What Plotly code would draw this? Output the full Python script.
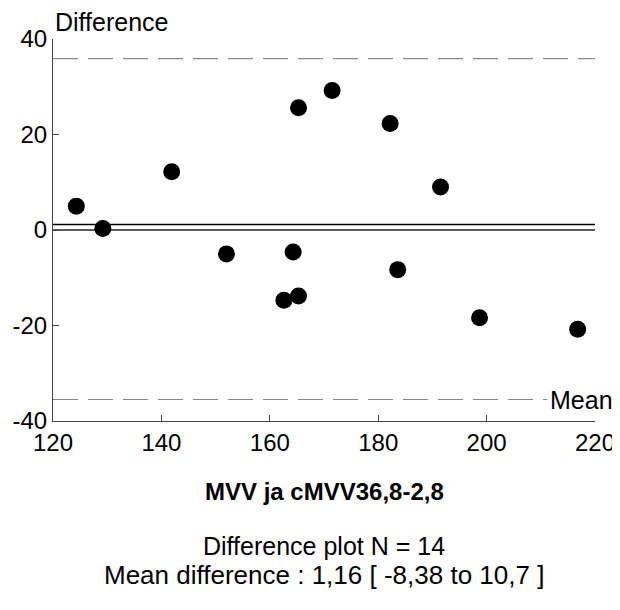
import plotly.graph_objects as go

# Data
mean_vals = [124.3, 129.2, 141.9, 152.0, 162.6, 164.3, 165.3, 165.3, 171.5, 182.2, 183.6, 191.5, 198.7, 216.8]
diff_vals = [5.0, 0.3, 12.2, -5.0, -14.7, -4.6, -13.8, 25.6, 29.2, 22.3, -8.3, 9.0, -18.4, -20.8]
mean_diff = 1.16
upper_limit = 35.9
lower_limit = -35.5
x_ticks = [120, 140, 160, 180, 200, 220]
y_ticks = [-40, -20, 0, 20, 40]
y_ticklabels = ["-40", "-20", "0", "20", "40"]

title_text = "MVV ja cMVV36,8-2,8"
sub1 = "Difference plot N = 14"
sub2 = "Mean difference : 1,16 [ -8,38 to 10,7 ]"

FONT = "Liberation Sans, Arial, sans-serif"

fig = go.Figure()
fig.add_trace(go.Scatter(
    x=mean_vals, y=diff_vals, mode="markers",
    marker=dict(color="black", size=17, line=dict(width=0)),
    showlegend=False, hoverinfo="x+y"))

shapes = [
    dict(type="line", xref="x", yref="y", x0=120, x1=220, y0=mean_diff, y1=mean_diff,
         line=dict(color="black", width=1.5), layer="below"),
    dict(type="line", xref="x", yref="y", x0=120, x1=220, y0=0, y1=0,
         line=dict(color="#222", width=1.5), layer="below"),
    dict(type="line", xref="x", yref="y", x0=120, x1=220, y0=upper_limit, y1=upper_limit,
         line=dict(color="#888", width=1.2, dash="25px,10px"), layer="below"),
    dict(type="line", xref="x", yref="y", x0=120, x1=211.2, y0=lower_limit, y1=lower_limit,
         line=dict(color="#888", width=1.2, dash="25px,10px"), layer="below"),
]

annotations = [
    dict(text="Difference", xref="paper", yref="paper", x=0, y=1, xanchor="left",
         yanchor="middle", xshift=0, yshift=17, showarrow=False,
         font=dict(family=FONT, size=25, color="black")),
    dict(text="Mean", xref="x", yref="y", x=211.3, y=lower_limit, xanchor="left",
         yanchor="middle", showarrow=False,
         font=dict(family=FONT, size=25, color="black")),
    dict(text="<b>" + title_text + "</b>", xref="paper", yref="paper", x=0.5, y=0,
         xanchor="center", yanchor="middle", yshift=-70, showarrow=False,
         font=dict(family=FONT, size=24, color="black")),
    dict(text=sub1, xref="paper", yref="paper", x=0.5, y=0,
         xanchor="center", yanchor="middle", yshift=-125, showarrow=False,
         font=dict(family=FONT, size=25, color="black")),
    dict(text=sub2, xref="paper", yref="paper", x=0.5, y=0,
         xanchor="center", yanchor="middle", yshift=-154, showarrow=False,
         font=dict(family=FONT, size=26, color="black")),
]

fig.update_layout(
    width=612, height=602,
    margin=dict(l=45, r=25, t=31, b=189),
    paper_bgcolor="white", plot_bgcolor="white",
    shapes=shapes, annotations=annotations,
    font=dict(family=FONT, color="black"),
    xaxis=dict(range=[120, 220], tickvals=x_ticks, ticks="inside", ticklen=6,
               tickcolor="#444", showline=True, linecolor="#444", linewidth=1,
               showgrid=False, zeroline=False, tickfont=dict(size=24, color="black"),
               fixedrange=True, automargin=False),
    yaxis=dict(range=[-40, 40], tickvals=y_ticks, ticktext=y_ticklabels,
               ticks="inside", ticklen=6,
               tickcolor="#444", showline=True, linecolor="#444", linewidth=1,
               showgrid=False, zeroline=False, tickfont=dict(size=24, color="black"),
               fixedrange=True, automargin=False),
)

fig.write_html("out.html")
